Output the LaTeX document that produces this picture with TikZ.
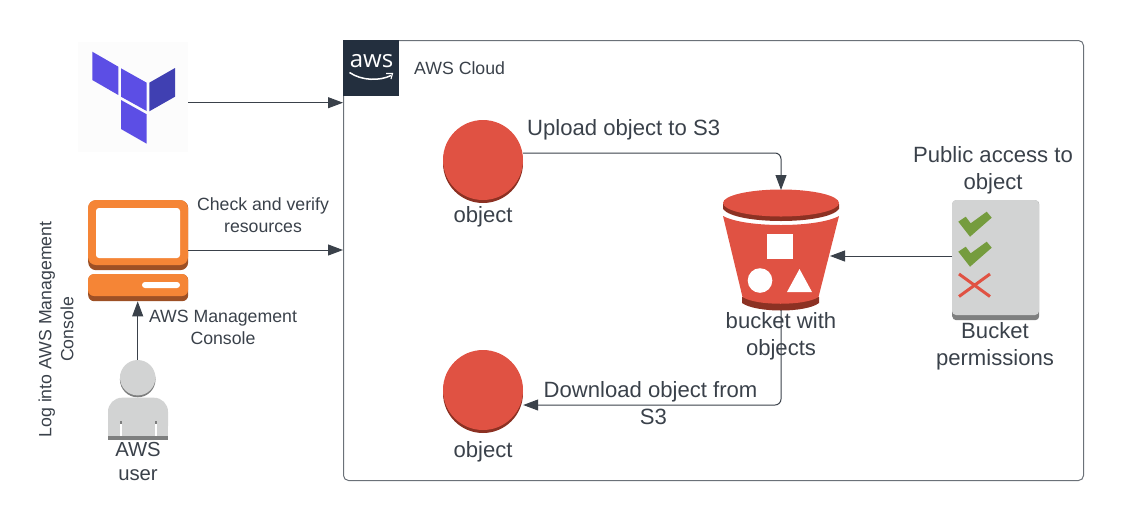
\documentclass[tikz,border=0pt]{standalone}
\usepackage{fontspec}
\setmainfont{Liberation Sans}
\newfontfamily\logofont{Open Sans}
\usetikzlibrary{arrows.meta,calc}
\definecolor{ink}{HTML}{3A414A}
\definecolor{edgegray}{HTML}{6B7178}
\definecolor{tfa}{HTML}{5C4EE5}
\definecolor{tfb}{HTML}{4040B2}
\definecolor{awsdark}{HTML}{232F3E}
\definecolor{orangeA}{HTML}{F58536}
\definecolor{orangeB}{HTML}{9D5025}
\definecolor{redA}{HTML}{E05243}
\definecolor{redB}{HTML}{8C3123}
\definecolor{grayA}{HTML}{D2D3D3}
\definecolor{grayB}{HTML}{7E7F7F}
\definecolor{okgreen}{HTML}{759C3E}
\tikzset{
  x=1pt,y=-1pt,
  link/.style={draw=ink,line width=1pt,-{Triangle[length=15pt,width=11pt,fill=ink]},rounded corners=6pt},
  bigtxt/.style={text=ink,align=center,inner sep=0pt,font=\fontsize{22.1}{27}\selectfont},
  usertxt/.style={text=ink,align=center,inner sep=0pt,font=\fontsize{20.3}{24}\selectfont},
  smalltxt/.style={text=ink,align=center,inner sep=0pt,font=\fontsize{17.7}{22}\selectfont},
}
\begin{document}
\begin{tikzpicture}
\useasboundingbox (0,0) rectangle (1123,520);
% cloud
\node[draw=edgegray,line width=1pt,rounded corners=5pt,minimum width=740pt,minimum height=440pt,inner sep=0pt,anchor=north west] (cloud) at (343,40) {};
\node[fill=awsdark,minimum size=56pt,inner sep=0pt,anchor=north west] (tile) at (343,40) {};
\node[text=white,inner sep=0pt,font=\logofont\fontsize{24}{24}\selectfont] (awslogo) at (371.5,61) {aws};
\draw[white,line width=1.5pt] (349.5,72.5) .. controls (362,81) and (380,81) .. (391,75.5);
\draw[white,line width=1.1pt] (386,73.5) -- (392.5,73.5) -- (391,79);
\node[smalltxt,anchor=west] (cloudlabel) at (414,68.5) {AWS Cloud};
% terraform
\node[fill=white!98!gray,minimum size=110pt,inner sep=0pt,anchor=north west] (tf) at (78,42) {};
\fill[tfa] (92.3,51.7) -- (118.3,66.7) -- (118.3,95) -- (92.3,80) -- cycle;
\fill[tfa] (121,68.3) -- (146.7,82.7) -- (146.7,111) -- (121,96.7) -- cycle;
\fill[tfb] (149.3,82.7) -- (175,68) -- (175,96.7) -- (149.3,111.3) -- cycle;
\fill[tfa] (121,100) -- (146.7,114.3) -- (146.7,143.7) -- (121,129) -- cycle;
% computer
\node[fill=orangeB,rounded corners=8pt,minimum width=100pt,minimum height=70pt,inner sep=0pt,anchor=north west] (screen) at (88,200) {};
\fill[orangeA,rounded corners=8pt] (88,200) rectangle (188,265);
\fill[white,rounded corners=3pt] (96,208) rectangle (180,258);
\node[fill=orangeB,rounded corners=6pt,minimum width=100pt,minimum height=27pt,inner sep=0pt,anchor=north west] (base) at (88,274) {};
\fill[orangeA,rounded corners=6pt] (88,274) rectangle (188,296);
\fill[white,rounded corners=3pt] (142,282) rectangle (180,288);
% user
\fill[grayB] (137.7,379.5) circle (17.8);
\node[fill=grayA,circle,minimum size=35.4pt,inner sep=0pt] (head) at (137.7,377.7) {};
\fill[grayA,rounded corners=14pt] (108,440) -- (108,397.7) -- (168,397.7) -- (168,440) -- cycle;
\fill[grayA] (108,425) rectangle (168,437);
\fill[grayB] (108,436) rectangle (168,440);
\fill[white] (120,424) rectangle (122,436);
\fill[white] (155,424) rectangle (157,436);
\fill[grayB] (120,421) rectangle (122,424);
\fill[grayB] (155,421) rectangle (157,424);
% objects
\fill[redB] (483,163) circle (40);
\node[fill=redA,circle,minimum size=80pt,inner sep=0pt] (obja) at (483,160) {};
\fill[redB] (483,393) circle (40);
\node[fill=redA,circle,minimum size=80pt,inner sep=0pt] (objb) at (483,390) {};
% bucket
\coordinate (buckettop) at (781,190);
\coordinate (bucketbottom) at (781,310);
\coordinate (bucketright) at (830,256);
\fill[redB] (742,297) -- (819,297) -- (819,303) .. controls (806,313) and (756,313) .. (742,303) -- cycle;
\fill[redA] (723,216) .. controls (745,228) and (817,228) .. (839,216) -- (818.5,297) .. controls (805,306) and (756,306) .. (742.5,297) -- cycle;
\fill[redB] (723,204) -- (723,209) .. controls (735,225) and (827,225) .. (839,209) -- (839,204) -- cycle;
\fill[redA] (781,203) ellipse (58 and 13.5);
\fill[white] (767,234) rectangle (793,259);
\fill[white] (760,280.5) circle (12.3);
\fill[white] (799.5,269) -- (812,292) -- (787,292) -- cycle;
% permissions
\node[fill=grayB,rounded corners=4pt,minimum width=87pt,minimum height=120pt,inner sep=0pt,anchor=north west] (perm) at (952,200) {};
\fill[grayA,rounded corners=4pt] (952,200) rectangle (1039,315);
\foreach \dy in {0,30}{
  \fill[okgreen,yshift=-\dy pt] (958.3,221.7) -- (965.7,216.7) -- (970.7,223.3) -- (986.7,211.7) -- (991.7,217.7) -- (970,236.7) -- cycle;
}
\draw[redA,line width=3pt] (959,274) -- (990,296.5) (990,274) -- (959,296.5);
% connectors
\coordinate (tfout) at ($(tf.east)+(0,5.5)$);
\draw[link] (tfout) -- (tfout -| cloud.west);
\coordinate (screenout) at (188,250);
\draw[link] (screenout) -- (screenout -| cloud.west);
\draw[link] (head.north) -- (head.north |- base.south);
\coordinate (objaout) at (523,153);
\draw[link] (objaout) -| (buckettop);
\coordinate (bucketleft) at (781,405);
\draw[link] (bucketbottom) -- (bucketleft) -- (bucketleft -| objb.east);
\coordinate (permleft) at (952,256);
\draw[link] (permleft) -- (bucketright);
% labels
\node[smalltxt] (lchk) at (263,215.5) {Check and verify\\resources};
\node[smalltxt] (lmgmt) at (223,327.5) {AWS Management\\Console};
\node[smalltxt,rotate=90] (llog) at (56,329.5) {Log into AWS Management\\Console};
\node[usertxt] (luser) at (138,461.5) {AWS\\user};
\node[bigtxt,anchor=west] (lup) at (527,129.5) {Upload object to S3};
\node[bigtxt] (loa) at (483,216.5) {object};
\node[bigtxt] (lob) at (483,451.5) {object};
\node[bigtxt] (lbuck) at (781,336) {bucket with\\objects};
\node[bigtxt] (ldown) at (650.5,403.5) {Download object from\\\hspace*{6pt}S3};
\node[bigtxt] (lpub) at (993,170) {Public access to\\object};
\node[bigtxt] (lperm) at (995,346.5) {Bucket\\permissions};
\end{tikzpicture}
\end{document}
